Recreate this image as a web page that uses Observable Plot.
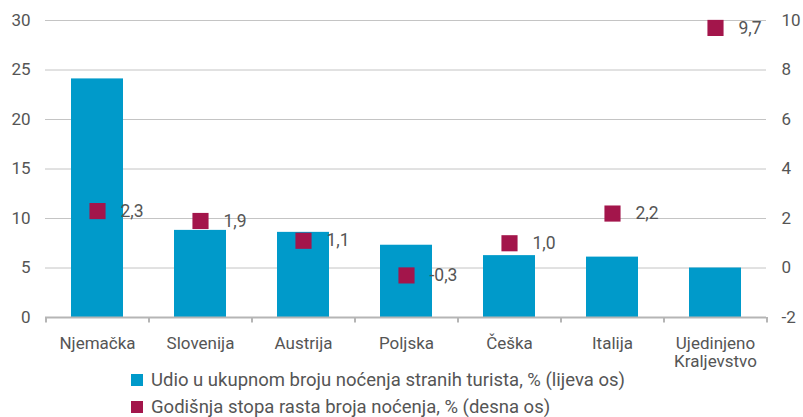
<!DOCTYPE html>
<html><head><meta charset="utf-8">
<script src="https://cdn.jsdelivr.net/npm/d3@7"></script>
<script src="https://cdn.jsdelivr.net/npm/@observablehq/plot@0.6"></script>
<style>
body{margin:0;background:#fff;font-family:Roboto,sans-serif;}
#chart{position:relative;width:803px;height:417px;overflow:hidden;}
#chart svg{position:absolute;left:0;top:0;overflow:visible;}
.legend{position:absolute;left:131px;font-size:18.5px;color:#555;display:flex;align-items:center;white-space:nowrap;height:22px;line-height:22px;}
.sw{width:12px;height:12px;margin-right:8px;flex:none;}
</style></head><body><div id="chart"></div>
<script>
const categories = ["Njemačka","Slovenija","Austrija","Poljska","Češka","Italija","Ujedinjeno\nKraljevstvo"];
const shares = [24.1, 8.8, 8.6, 7.3, 6.25, 6.1, 5.0];
const growth = [2.3, 1.9, 1.1, -0.3, 1.0, 2.2, 9.7];
const leftTicks = [0, 5, 10, 15, 20, 25, 30];
const rightTicks = [-2, 0, 2, 4, 6, 8, 10];
const seriesNames = [
  "Udio u ukupnom broju noćenja stranih turista, % (lijeva os)",
  "Godišnja stopa rasta broja noćenja, % (desna os)"
];
const colors = ["#009ACA", "#A3154B"];

// right axis (-2..10) maps onto left axis (0..30)
const toLeft = r => (r + 2) * 2.5;
const toRight = l => Math.round(l / 2.5 - 2);

const data = categories.map((c, i) => ({cat: c, share: shares[i], growth: growth[i]}));

const W = 803, H = 365, ML = 45, MR = 37;
const step = (W - ML - MR) / categories.length;
const fmt = v => v.toFixed(1).replace(".", ",");

const plot = Plot.plot({
  width: W, height: H,
  marginLeft: ML, marginRight: MR, marginTop: 20, marginBottom: 48,
  style: {fontFamily: "Roboto, sans-serif", fontSize: "17px", color: "#555", background: "transparent"},
  x: {domain: categories, paddingInner: 0.5, paddingOuter: 0.25, label: null},
  y: {domain: [0, 30], label: null},
  marks: [
    Plot.gridY(leftTicks.filter(d => d > 0), {stroke: "#c4c4c4", strokeOpacity: 1, strokeWidth: 1}),
    Plot.barY(data, {x: "cat", y: "share", fill: colors[0]}),
    Plot.ruleY([0], {stroke: "#b5b5b5", strokeWidth: 2}),
    Plot.ruleX(categories, {x: d => d, dx: -step / 2, y1: 0, y2: -0.55, stroke: "#b5b5b5", strokeWidth: 2}),
    Plot.ruleX(categories.slice(-1), {x: d => d, dx: step / 2, y1: 0, y2: -0.55, stroke: "#b5b5b5", strokeWidth: 2}),
    Plot.dot(data, {x: "cat", y: d => toLeft(d.growth), symbol: "square", r: 9.1, fill: colors[1], stroke: null}),
    Plot.text(data, {x: "cat", y: d => toLeft(d.growth), text: d => fmt(d.growth), dx: 23, textAnchor: "start", fill: "#555", fontSize: 17.5}),
    Plot.axisY(leftTicks, {anchor: "left", tickSize: 0, tickPadding: 15, fill: "#555", fontSize: 17}),
    Plot.axisY(rightTicks.map(toLeft), {anchor: "right", tickSize: 0, tickPadding: 15, tickFormat: d => String(toRight(d)), fill: "#555", fontSize: 17}),
    Plot.axisX({anchor: "bottom", tickSize: 0, tickPadding: 18, lineHeight: 1.1, fill: "#555", fontSize: 17})
  ]
});

const chart = document.getElementById("chart");
chart.appendChild(plot);
seriesNames.forEach((name, i) => {
  const row = document.createElement("div");
  row.className = "legend";
  row.style.top = (369 + i * 27) + "px";
  const sw = document.createElement("span");
  sw.className = "sw";
  sw.style.background = colors[i];
  const tx = document.createElement("span");
  tx.textContent = name;
  row.appendChild(sw);
  row.appendChild(tx);
  chart.appendChild(row);
});
</script></body></html>
